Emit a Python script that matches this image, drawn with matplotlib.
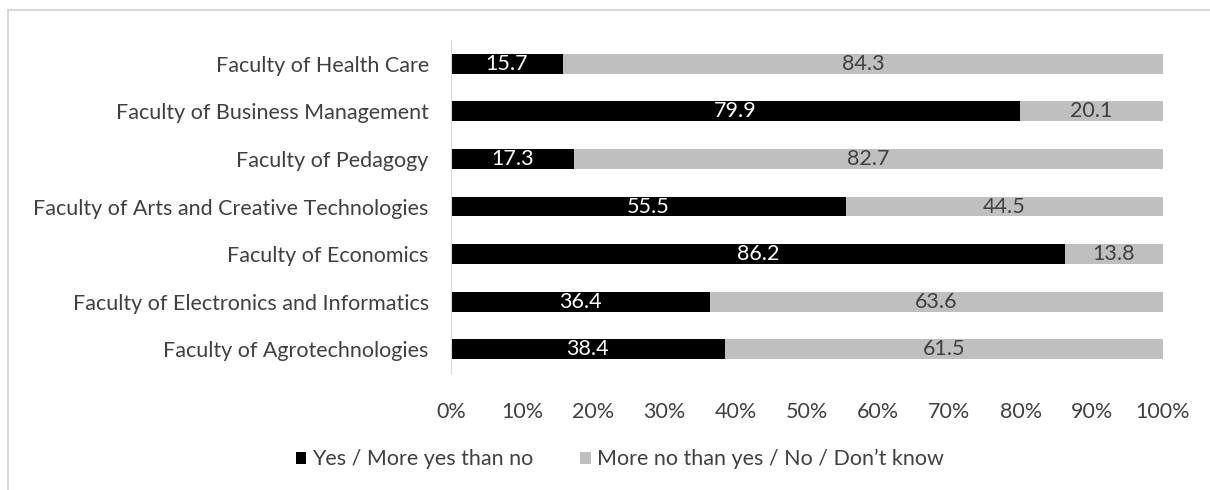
import matplotlib.pyplot as plt
from matplotlib.patches import Rectangle

faculties = [
    "Faculty of Health Care",
    "Faculty of Business Management",
    "Faculty of Pedagogy",
    "Faculty of Arts and Creative Technologies",
    "Faculty of Economics",
    "Faculty of Electronics and Informatics",
    "Faculty of Agrotechnologies",
]
yes_vals = [15.7, 79.9, 17.3, 55.5, 86.2, 36.4, 38.4]
no_vals = [84.3, 20.1, 82.7, 44.5, 13.8, 63.6, 61.5]
series_names = ["Yes / More yes than no", "More no than yes / No / Don\u2019t know"]
ticks = [0, 10, 20, 30, 40, 50, 60, 70, 80, 90, 100]

plt.rcParams['font.family'] = ['Lato', 'DejaVu Sans']
text_col = '#404040'
fs = 15.5

fig = plt.figure(figsize=(12.1, 4.9), dpi=100)
ax = fig.add_axes([451 / 1210, 1 - 373 / 490, (1163 - 451) / 1210, (373 - 40) / 490])

# outer chart frame (clipped on the right/bottom like the source)
fig.patches.append(Rectangle((8 / 1210, -0.1), 1.2, 1 - 10 / 490 + 0.1,
                             transform=fig.transFigure, fill=False,
                             edgecolor='#d9d9d9', lw=1.5))

ypos = list(range(len(faculties)))
tot = [a + b for a, b in zip(yes_vals, no_vals)]
yes_pct = [a / t * 100 for a, t in zip(yes_vals, tot)]
no_pct = [b / t * 100 for b, t in zip(no_vals, tot)]

b1 = ax.barh(ypos, yes_pct, height=0.42, color='black', label=series_names[0])
b2 = ax.barh(ypos, no_pct, left=yes_pct, height=0.42, color='#bfbfbf', label=series_names[1])

for i in ypos:
    ax.text(yes_pct[i] / 2, i, f"{yes_vals[i]:.1f}", ha='center', va='center',
            color='white', fontsize=fs)
    ax.text(yes_pct[i] + no_pct[i] / 2, i, f"{no_vals[i]:.1f}", ha='center', va='center',
            color=text_col, fontsize=fs)

ax.set_xlim(0, 100)
ax.set_ylim(len(faculties) - 0.5, -0.5)
ax.set_yticks(ypos)
ax.set_yticklabels(faculties, fontsize=fs, color=text_col)
ax.set_xticks(ticks)
ax.set_xticklabels([f"{t}%" for t in ticks], fontsize=fs, color=text_col)
ax.tick_params(axis='both', length=0)
ax.tick_params(axis='y', pad=16)
ax.tick_params(axis='x', pad=21)
for s in ['top', 'right', 'bottom']:
    ax.spines[s].set_visible(False)
ax.spines['left'].set_color('#d9d9d9')

fig.legend(handles=[b1, b2], loc='center', bbox_to_anchor=(0.512, 0.063), ncol=2,
           frameon=False, fontsize=fs, handlelength=0.5, handleheight=0.5,
           handletextpad=0.25, columnspacing=2.2, labelcolor=text_col)

fig.savefig('out.png', dpi=100)
